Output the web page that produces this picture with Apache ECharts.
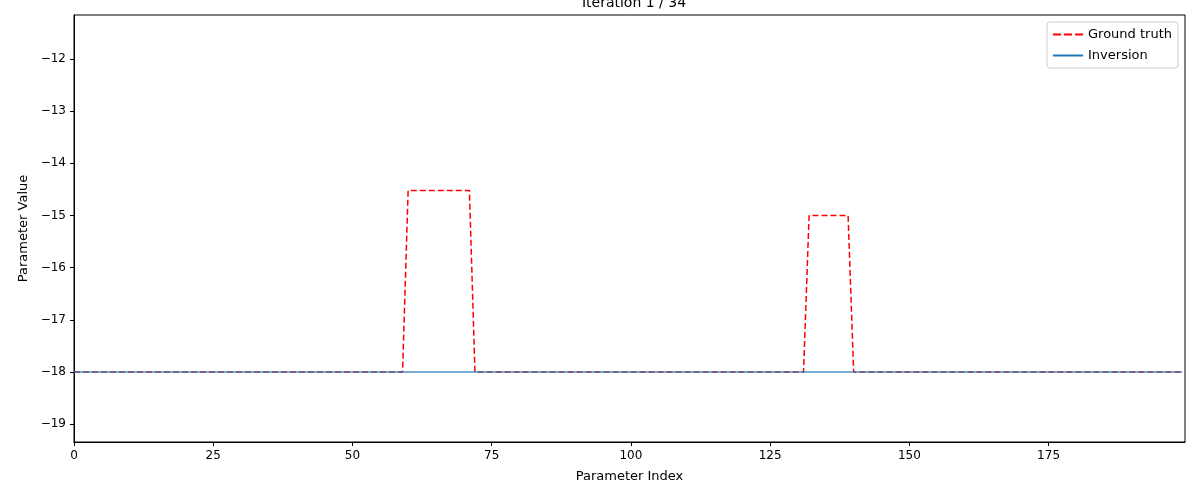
<!DOCTYPE html>
<html><head><meta charset="utf-8">
<script src="https://cdn.jsdelivr.net/npm/echarts@6/dist/echarts.min.js"></script>
<style>html,body{margin:0;padding:0;background:#fff}#c{width:1200px;height:500px}</style>
</head><body><div id="c"></div>
<script>
const nPoints = 200;
const baseValue = -18;
const blockStarts = [60, 132];
const blockEnds = [71, 139];
const blockValues = [-14.52, -15.0];
const inversionValue = -18;
const xTicks = [0, 25, 50, 75, 100, 125, 150, 175];
const yTicks = [-19, -18, -17, -16, -15, -14, -13, -12];

const truth = [], inv = [];
for (let i = 0; i < nPoints; i++) {
  let v = baseValue;
  for (let b = 0; b < blockStarts.length; b++) if (i >= blockStarts[b] && i <= blockEnds[b]) v = blockValues[b];
  truth.push([i, v]);
  inv.push([i, inversionValue]);
}
const font = 'DejaVu Sans';
const chart = echarts.init(document.getElementById('c'));
chart.setOption({
  animation: false,
  textStyle: {fontFamily: font},
  title: {text: 'Iteration 1 / 34', left: 629, top: -9, textAlign: 'center', textStyle: {fontFamily: font, fontSize: 14, fontWeight: 'normal', color: '#000'}},
  grid: {left: 74, right: 15, top: 15, bottom: 58, containLabel: false, outerBoundsMode: 'none', show: true, borderColor: '#000', borderWidth: 1},
  legend: {right: 22, top: 22, orient: 'vertical', itemWidth: 30, itemHeight: 2, itemGap: 8,
    backgroundColor: '#fff', borderColor: '#ccc', borderWidth: 1, borderRadius: 3, padding: [6, 6, 6, 6],
    textStyle: {fontFamily: font, fontSize: 13, color: '#000'},
    data: [{name: 'Ground truth', icon: 'path://M0,0H8V2H0Z M11,0H19V2H11Z M22,0H30V2H22Z'}, {name: 'Inversion', icon: 'rect'}]},
  xAxis: {type: 'value', min: 0, max: 199.5, name: 'Parameter Index', nameLocation: 'middle', nameGap: 28,
    nameTextStyle: {fontSize: 13, color: '#000'},
    axisLine: {onZero: false, lineStyle: {color: '#000'}}, axisTick: {lineStyle: {color: '#000'}, length: 4, customValues: xTicks},
    axisLabel: {color: '#000', fontSize: 12, customValues: xTicks}, splitLine: {show: false}},
  yAxis: {type: 'value', min: -19.34, max: -11.16, name: 'Parameter Value', nameLocation: 'middle', nameGap: 44,
    nameTextStyle: {fontSize: 13, color: '#000'},
    axisLine: {show: true, lineStyle: {color: '#000'}}, axisTick: {show: true, lineStyle: {color: '#000'}, length: 4, customValues: yTicks},
    axisLabel: {color: '#000', fontSize: 12, customValues: yTicks, formatter: v => '\u2212' + Math.abs(v)},
    splitLine: {show: false}},
  series: [
    {name: 'Ground truth', type: 'line', data: truth, symbol: 'none', color: '#ff0000', lineStyle: {color: '#ff0000', width: 1.5, type: [6, 3]}, z: 2},
    {name: 'Inversion', type: 'line', data: inv, symbol: 'none', color: '#1f77b4', lineStyle: {color: '#1f77b4', width: 1.5, opacity: 0.8}, z: 3}
  ]
});
</script></body></html>
